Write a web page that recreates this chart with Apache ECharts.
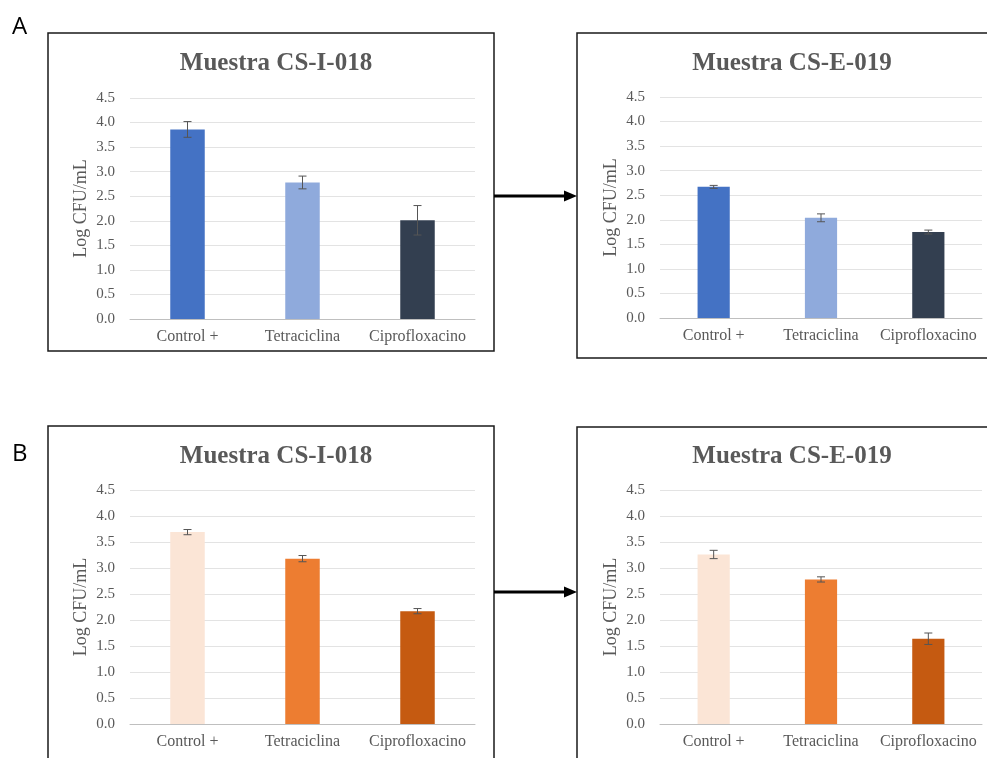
<!DOCTYPE html>
<html>
<head>
<meta charset="utf-8">
<script src="https://cdn.jsdelivr.net/npm/echarts@6/dist/echarts.min.js"></script>
<style>
  html, body { margin: 0; padding: 0; background: #fff; }
  #chart { width: 987px; height: 758px; }
</style>
</head>
<body>
<div id="chart"></div>
<script>
// Treatments on the x axis
const categories = ['Control +', 'Tetraciclina', 'Ciprofloxacino'];
// y axis ticks
const yTicks = [0, 0.5, 1, 1.5, 2, 2.5, 3, 3.5, 4, 4.5];

// Panel titles
const titles = ['Muestra CS-I-018', 'Muestra CS-E-019', 'Muestra CS-I-018', 'Muestra CS-E-019'];

// Mean Log CFU/mL and standard deviation per panel
const meansA1 = [3.86, 2.78, 2.01];
const errA1   = [0.16, 0.13, 0.30];
const meansA2 = [2.67, 2.04, 1.75];
const errA2   = [0.03, 0.08, 0.04];
const meansB1 = [3.69, 3.18, 2.17];
const errB1   = [0.05, 0.06, 0.05];
const meansB2 = [3.26, 2.78, 1.64];
const errB2   = [0.08, 0.05, 0.11];

// Bar fills per row
const coloursA = ['#4472C4', '#8FAADC', '#333F50'];
const coloursB = ['#FBE5D6', '#ED7D31', '#C55A11'];

const panels = [
  { means: meansA1, err: errA1, colours: coloursA, grid: { left: 130, top: 98, width: 345, height: 221 }, titleX: 271, titleY: 46 },
  { means: meansA2, err: errA2, colours: coloursA, grid: { left: 660, top: 97, width: 322, height: 221 }, titleX: 787, titleY: 46 },
  { means: meansB1, err: errB1, colours: coloursB, grid: { left: 130, top: 490, width: 345, height: 234 }, titleX: 271, titleY: 439 },
  { means: meansB2, err: errB2, colours: coloursB, grid: { left: 660, top: 490, width: 322, height: 234 }, titleX: 787, titleY: 439 }
];

const serif = '"Liberation Serif", "DejaVu Serif", serif';
const grey = '#595959';

const option = {
  animation: false,
  backgroundColor: '#ffffff',
  title: panels.map((p, i) => ({
    text: titles[i],
    left: p.titleX,
    top: p.titleY,
    textAlign: 'center',
    textStyle: { fontFamily: serif, fontWeight: 'bold', fontSize: 25, color: grey }
  })),
  grid: panels.map(p => Object.assign({ containLabel: false }, p.grid)),
  xAxis: panels.map((p, i) => ({
    type: 'category',
    gridIndex: i,
    data: categories,
    axisTick: { show: false },
    axisLine: { lineStyle: { color: '#BFBFBF', width: 1 } },
    axisLabel: { fontFamily: serif, fontSize: 16, color: grey, margin: 10, interval: 0 }
  })),
  yAxis: panels.map((p, i) => ({
    type: 'value',
    gridIndex: i,
    min: yTicks[0],
    max: yTicks[yTicks.length - 1],
    interval: yTicks[1] - yTicks[0],
    name: 'Log CFU/mL',
    nameLocation: 'middle',
    nameGap: 40,
    nameRotate: 90,
    nameTextStyle: { fontFamily: serif, fontSize: 18, color: grey },
    axisLine: { show: false },
    axisTick: { show: false },
    axisLabel: { fontFamily: serif, fontSize: 15, color: grey, margin: 15, formatter: v => v.toFixed(1) },
    splitLine: { lineStyle: { color: '#E3E3E3', width: 1 } }
  })),
  series: []
};

panels.forEach((p, i) => {
  option.series.push({
    type: 'bar',
    xAxisIndex: i,
    yAxisIndex: i,
    barWidth: '30%',
    data: p.means.map((v, k) => ({ value: v, itemStyle: { color: p.colours[k] } }))
  });
  option.series.push({
    type: 'custom',
    xAxisIndex: i,
    yAxisIndex: i,
    z: 10,
    data: p.means.map((v, k) => [k, v - p.err[k], v + p.err[k]]),
    renderItem: function (params, api) {
      const lo = api.coord([api.value(0), api.value(1)]);
      const hi = api.coord([api.value(0), api.value(2)]);
      const half = 4;
      const style = { stroke: '#555555', lineWidth: 1 };
      return {
        type: 'group',
        children: [
          { type: 'line', shape: { x1: hi[0], y1: hi[1], x2: lo[0], y2: lo[1] }, style },
          { type: 'line', shape: { x1: hi[0] - half, y1: hi[1], x2: hi[0] + half, y2: hi[1] }, style },
          { type: 'line', shape: { x1: lo[0] - half, y1: lo[1], x2: lo[0] + half, y2: lo[1] }, style }
        ]
      };
    }
  });
});

// Panel frames, connecting arrows and row letters
const frame = { fill: 'none', stroke: '#1a1a1a', lineWidth: 1.5 };
option.graphic = [
  { type: 'rect', shape: { x: 48, y: 33, width: 446, height: 318 }, style: frame, silent: true },
  { type: 'rect', shape: { x: 577, y: 33, width: 430, height: 325 }, style: frame, silent: true },
  { type: 'rect', shape: { x: 48, y: 426, width: 446, height: 360 }, style: frame, silent: true },
  { type: 'rect', shape: { x: 577, y: 427, width: 430, height: 360 }, style: frame, silent: true },
  { type: 'line', shape: { x1: 494, y1: 196, x2: 566, y2: 196 }, style: { stroke: '#000', lineWidth: 3 } },
  { type: 'polygon', shape: { points: [[564, 190.5], [577, 196], [564, 201.5]] }, style: { fill: '#000' } },
  { type: 'line', shape: { x1: 494, y1: 592, x2: 566, y2: 592 }, style: { stroke: '#000', lineWidth: 3 } },
  { type: 'polygon', shape: { points: [[564, 586.5], [577, 592], [564, 597.5]] }, style: { fill: '#000' } },
  { type: 'text', x: 12, y: 15, style: { text: 'A', font: '24px "Open Sans", "DejaVu Sans", sans-serif', fill: '#000' } },
  { type: 'text', x: 12, y: 442, style: { text: 'B', font: '24px "Open Sans", "DejaVu Sans", sans-serif', fill: '#000' } }
];

const chart = echarts.init(document.getElementById('chart'), null, { renderer: 'canvas' });
chart.setOption(option);
</script>
</body>
</html>
